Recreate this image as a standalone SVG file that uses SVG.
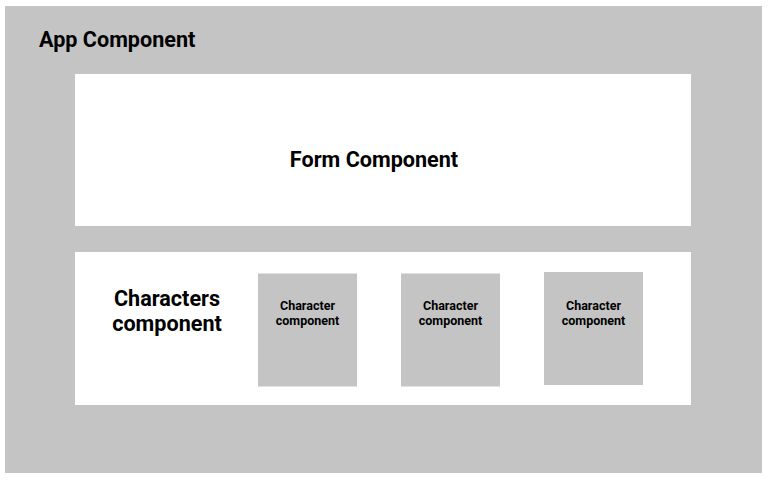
<svg xmlns="http://www.w3.org/2000/svg" width="770" height="480" viewBox="0 0 770 480">
  <style>
    .gray { fill: #c4c4c4; }
    .white { fill: #ffffff; }
    .big { font-family: Roboto, "Liberation Sans", sans-serif; font-weight: bold; font-size: 21.6px; fill: #000; }
    .small { font-family: Roboto, "Liberation Sans", sans-serif; font-weight: bold; font-size: 12.5px; fill: #000; text-anchor: middle; }
  </style>
  <rect width="770" height="480" fill="#ffffff"/>
  <g id="app">
    <rect class="gray" x="5" y="6" width="757" height="467"/>
    <text class="big" x="39" y="47">App Component</text>
  </g>
  <g id="form">
    <rect class="white" x="75" y="74" width="616" height="152"/>
    <text class="big" x="374" y="167" text-anchor="middle">Form Component</text>
  </g>
  <g id="characters">
    <rect class="white" x="75" y="252" width="616" height="153"/>
    <text class="big" x="167" y="306" text-anchor="middle">Characters</text>
    <text class="big" x="167" y="331" text-anchor="middle">component</text>
  </g>
  <g id="character1">
    <rect class="gray" x="258" y="273.5" width="99" height="113"/>
    <text class="small" x="307.5" y="310">Character</text>
    <text class="small" x="307.5" y="324.5">component</text>
  </g>
  <g id="character2">
    <rect class="gray" x="401" y="273.5" width="99" height="113"/>
    <text class="small" x="450.5" y="310">Character</text>
    <text class="small" x="450.5" y="324.5">component</text>
  </g>
  <g id="character3">
    <rect class="gray" x="544" y="272" width="99" height="113"/>
    <text class="small" x="593.5" y="310">Character</text>
    <text class="small" x="593.5" y="324.5">component</text>
  </g>
  <g id="connectors"></g>
</svg>
